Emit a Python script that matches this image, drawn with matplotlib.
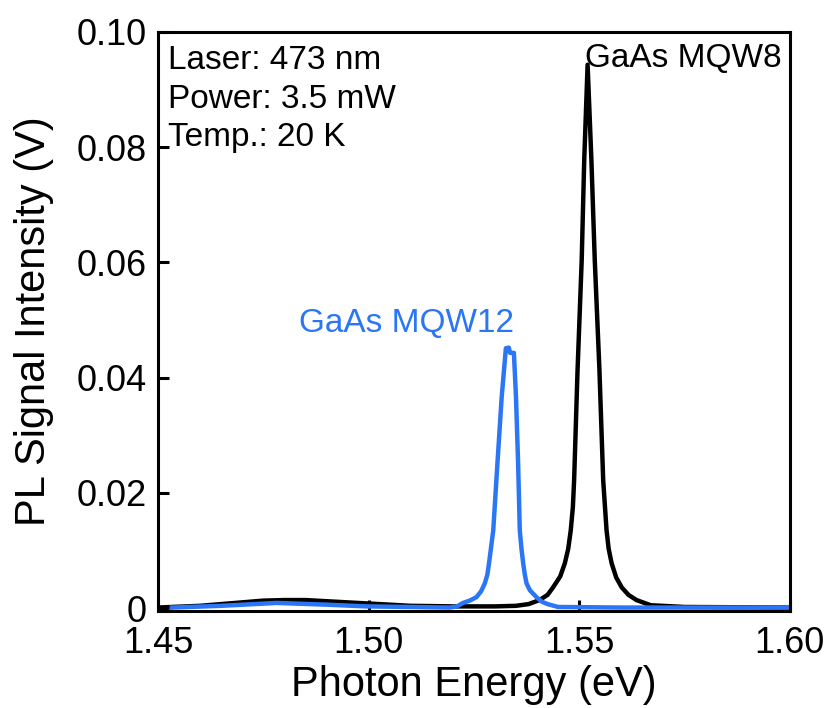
import numpy as np
import matplotlib.pyplot as plt

plt.rcParams['font.family'] = ['Liberation Sans', 'DejaVu Sans']

# Black curve: GaAs MQW8
eMQW8 = [1.450, 1.460, 1.470, 1.475, 1.480, 1.485, 1.490, 1.495, 1.500, 1.505,
         1.510, 1.520, 1.530, 1.535, 1.538, 1.5406, 1.5425, 1.5438, 1.5455, 1.5466,
         1.5474, 1.5480, 1.5485, 1.5488, 1.5496, 1.5506, 1.5512, 1.5520, 1.5529, 1.5537,
         1.5548, 1.5557, 1.5565, 1.5570, 1.5577, 1.5588, 1.5601, 1.5617, 1.5636, 1.5670,
         1.575, 1.600]
iMQW8 = [0.0001, 0.0004, 0.0010, 0.0013, 0.0014, 0.0014, 0.0012, 0.0010, 0.0008, 0.0006,
         0.0004, 0.0003, 0.0003, 0.0004, 0.0007, 0.0014, 0.0023, 0.0036, 0.0055, 0.0078,
         0.0103, 0.0135, 0.0175, 0.0222, 0.0410, 0.0604, 0.0778, 0.0943, 0.0778, 0.0604,
         0.0415, 0.0222, 0.0135, 0.0103, 0.0078, 0.0053, 0.0036, 0.0023, 0.0014, 0.0005,
         0.0002, 0.0001]

# Blue curve: GaAs MQW12
eMQW12 = [1.4533, 1.465, 1.4782, 1.490, 1.4996, 1.510, 1.5193, 1.5210, 1.5224, 1.5240,
          1.5256, 1.5267, 1.5276, 1.5282, 1.5286, 1.5296, 1.5306, 1.5316, 1.5326, 1.5333,
          1.5336, 1.5345, 1.5350, 1.5355, 1.5359, 1.5363, 1.5367, 1.5371, 1.5375, 1.5383,
          1.5400, 1.5412, 1.5425, 1.545, 1.560, 1.600]
iMQW12 = [0.0001, 0.0004, 0.0009, 0.0006, 0.0003, 0.0002, 0.0001, 0.0003, 0.0009, 0.0013,
          0.0019, 0.0029, 0.0043, 0.0058, 0.0078, 0.0135, 0.0252, 0.0366, 0.0451, 0.0452,
          0.0443, 0.0443, 0.0366, 0.0252, 0.0135, 0.0103, 0.0078, 0.0058, 0.0043, 0.0031,
          0.0018, 0.0011, 0.0007, 0.0002, 0.0001, 0.0001]

yTicks = [0, 0.02, 0.04, 0.06, 0.08, 0.10]
yLabels = ['0', '0.02', '0.04', '0.06', '0.08', '0.10']
xTicks = [1.45, 1.50, 1.55, 1.60]
xLabels = ['1.45', '1.50', '1.55', '1.60']

niebieski = '#2B76F6'

fig = plt.figure(figsize=(8.27, 7.08), dpi=100)
ax = fig.add_axes([0.191, 0.137, 0.764, 0.818])

ax.plot(eMQW8, iMQW8, color='black', lw=3.2, solid_joinstyle='round')
ax.plot(eMQW12, iMQW12, color=niebieski, lw=3.2, solid_joinstyle='round')

ax.set_xlim(1.45, 1.60)
ax.set_ylim(-0.0005, 0.10)
ax.set_xticks(xTicks)
ax.set_xticklabels(xLabels)
ax.set_yticks(yTicks)
ax.set_yticklabels(yLabels)
ax.tick_params(direction='in', length=8, width=2.2, labelsize=26, pad=8)
ax.tick_params(axis='x', pad=11)

for s in ax.spines.values():
    s.set_linewidth(2.2)

ax.set_xlabel('Photon Energy (eV)', fontsize=30, labelpad=3)
ax.set_ylabel('PL Signal Intensity (V)', fontsize=30, labelpad=16)

ax.text(0.016, 0.951, 'Laser: 473 nm', transform=ax.transAxes, fontsize=24, va='center')
ax.text(0.016, 0.884, 'Power: 3.5 mW', transform=ax.transAxes, fontsize=24, va='center')
ax.text(0.016, 0.818, 'Temp.: 20 K', transform=ax.transAxes, fontsize=24, va='center')

ax.text(1.5514, 0.0953, 'GaAs MQW8', fontsize=24, va='center', ha='left')
ax.text(1.5089, 0.0494, 'GaAs MQW12', fontsize=24, va='center', ha='center', color=niebieski)

fig.savefig('out.png', dpi=100)
